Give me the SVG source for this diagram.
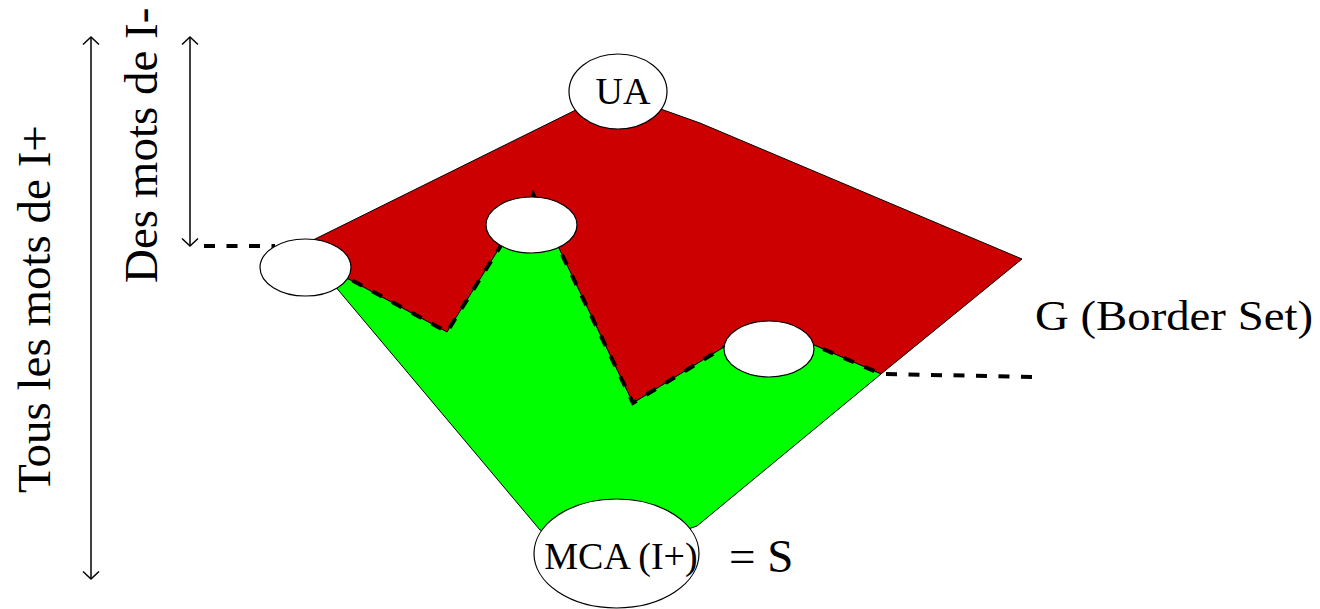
<svg xmlns="http://www.w3.org/2000/svg" width="1320" height="609" viewBox="0 0 1320 609">
<style>
.t{font-family:"Liberation Serif","Times New Roman",serif;fill:#000}
.node{fill:#fff;stroke:#000;stroke-width:1.2}
.dash{fill:none;stroke:#000;stroke-width:4;stroke-dasharray:11 11.5}
.arr{fill:none;stroke:#000;stroke-width:1.5;marker-start:url(#ah);marker-end:url(#ah)}
</style>
<defs>
<marker id="ah" markerUnits="userSpaceOnUse" markerWidth="20" markerHeight="20" refX="0" refY="0" viewBox="-10 -10 20 20" orient="auto-start-reverse" overflow="visible">
<path d="M-7.5,-8 L0,0 L-7.5,8" fill="none" stroke="#000" stroke-width="1.5"/>
</marker>
</defs>
<rect width="1320" height="609" fill="#fff"/>
<g id="regions">
<polygon id="red" points="313,240 600,98 640,100 655,107 700,123 1022,259 881,374 763,323 633,403 533,194 447,332 313,260" fill="#CC0000" stroke="#000" stroke-width="1"/>
<polygon id="green" points="313,260 447,332 533,194 633,403 763,323 881,374 697,526 616,554 540,530" fill="#00FF00" stroke="#000" stroke-width="1"/>
</g>
<g id="connectors">
<polyline class="dash" points="313,259 447,332 533,194 633,403 763,323 881,374"/>
<line class="dash" x1="204" y1="246" x2="275" y2="246"/>
<line class="dash" x1="886" y1="374" x2="1034" y2="377"/>
<line class="arr" x1="91" y1="37" x2="91" y2="579"/>
<line class="arr" x1="190" y1="37" x2="190" y2="246"/>
</g>
<g id="ua"><ellipse class="node" cx="618" cy="91.5" rx="49" ry="37.5"/><text class="t" x="623" y="104" font-size="38" text-anchor="middle">UA</text></g>
<g id="n1"><ellipse class="node" cx="305.5" cy="267.5" rx="45.5" ry="28.5"/></g>
<g id="n2"><ellipse class="node" cx="531.5" cy="225" rx="45.5" ry="28"/></g>
<g id="n3"><ellipse class="node" cx="769" cy="349" rx="45" ry="28"/></g>
<g id="mca"><ellipse class="node" cx="616.5" cy="553.5" rx="82.5" ry="54.5"/><text class="t" x="621" y="569" font-size="38" text-anchor="middle">MCA (I+)</text></g>
<g id="labels">
<text class="t" x="729" y="572" font-size="47">= S</text>
<text class="t" x="1035" y="330" font-size="42" textLength="278" lengthAdjust="spacingAndGlyphs">G (Border Set)</text>
<text class="t" transform="translate(50,493) rotate(-90)" font-size="47">Tous les mots de I+</text>
<text class="t" transform="translate(157,283) rotate(-90)" font-size="47">Des mots de I-</text>
</g>
</svg>
